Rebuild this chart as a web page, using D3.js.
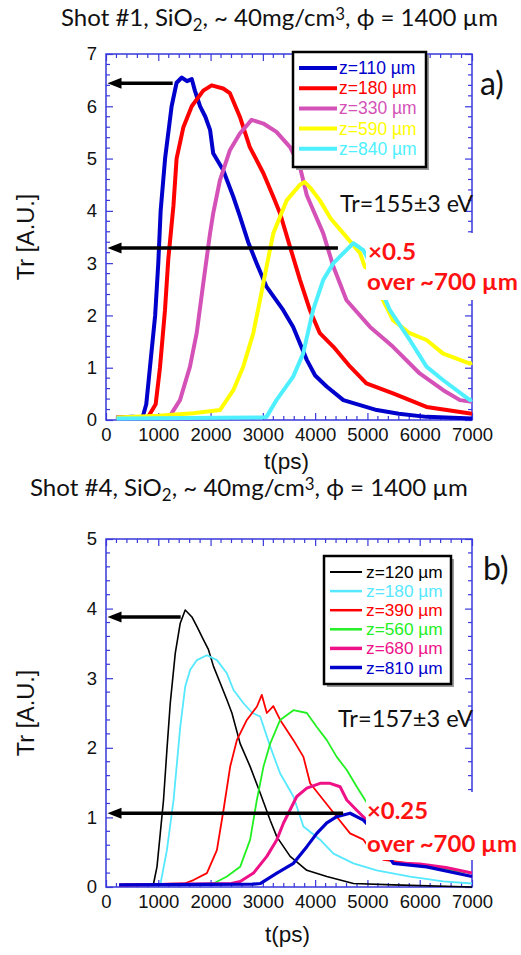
<!DOCTYPE html>
<html><head><meta charset="utf-8">
<script src="https://cdn.jsdelivr.net/npm/d3@7"></script>
<style>body{margin:0;background:#fff}svg{display:block}</style>
</head><body>
<svg id="c" width="521" height="955"></svg>
<script>
// ---------- DATA ----------
const xTicks = [0,1000,2000,3000,4000,5000,6000,7000];
const yTicksA = [0,1,2,3,4,5,6,7];
const yTicksB = [0,1,2,3,4,5];

const seriesA_names = ["z=110 µm","z=180 µm","z=330 µm","z=590 µm","z=840 µm"];
const seriesA_colors = ["#0000cc","#ff0000","#d452b8","#ffff00","#4ef0ff"];
const a_z110 = [[200,0.05],[500,0.06],[700,0.05],[770,0.3],[840,1.0],[940,2.0],[1000,3.0],[1045,4.0],[1130,5.0],[1255,6.0],[1350,6.45],[1450,6.55],[1550,6.48],[1640,6.52],[1700,6.3],[1800,6.0],[1900,5.8],[1990,5.55],[2050,5.1],[2240,4.78],[2435,4.27],[2560,3.9],[2720,3.4],[2880,3.0],[3070,2.55],[3390,2.1],[3580,1.78],[3840,1.15],[4000,0.85],[4220,0.64],[4540,0.38],[5180,0.19],[5600,0.12],[6130,0.06],[7000,0.03]];
const a_z180 = [[200,0.05],[800,0.05],[950,0.3],[1032,1.0],[1128,2.1],[1190,3.06],[1290,4.1],[1350,5.0],[1480,5.6],[1640,6.0],[1860,6.3],[2020,6.4],[2240,6.34],[2370,6.25],[2560,5.8],[2750,5.22],[3010,4.72],[3200,4.27],[3330,3.95],[3520,3.31],[3710,2.68],[3900,2.1],[4090,1.66],[4350,1.4],[4670,1.02],[4980,0.7],[5490,0.51],[6130,0.25],[7000,0.12]];
const a_z330 = [[200,0.05],[1100,0.05],[1224,0.08],[1415,0.38],[1606,1.02],[1734,1.66],[1860,2.61],[1990,3.57],[2050,3.95],[2180,4.59],[2370,5.16],[2560,5.48],[2785,5.74],[3010,5.67],[3260,5.51],[3520,5.22],[3710,4.84],[3840,4.3],[4155,3.57],[4350,2.93],[4600,2.29],[5050,1.78],[5490,1.40],[6000,0.89],[6450,0.57],[6770,0.38],[7000,0.35]];
const a_z590 = [[200,0.05],[1000,0.08],[1670,0.13],[2180,0.19],[2435,0.57],[2625,1.02],[2817,1.66],[2945,2.29],[3070,2.93],[3200,3.57],[3455,4.2],[3710,4.5],[3800,4.55],[3900,4.45],[4090,4.2],[4300,3.85],[4540,3.57],[4860,3.19],[4950,2.93],[5000,2.9],[5300,2.29],[5490,1.91],[5810,1.66],[6130,1.53],[6450,1.27],[6960,1.08],[7000,1.1]];
const a_z840 = [[200,0.03],[3000,0.05],[3070,0.06],[3260,0.38],[3580,0.83],[3770,1.27],[3960,2.1],[4155,2.68],[4350,3.0],[4540,3.19],[4730,3.38],[4920,3.25],[5000,3.1],[5430,2.1],[5810,1.53],[6130,1.02],[6450,0.76],[6960,0.38],[7000,0.4]];

const seriesB_names = ["z=120 µm","z=180 µm","z=390 µm","z=560 µm","z=680 µm","z=810 µm"];
const seriesB_colors = ["#000000","#55e8ff","#ff0000","#22f022","#ee1188","#0000cc"];
const b_z120 = [[250,0.03],[800,0.03],[910,0.05],[975,0.29],[1038,0.77],[1100,1.25],[1165,1.97],[1230,2.65],[1325,3.36],[1420,3.79],[1515,3.98],[1643,3.88],[1740,3.74],[1865,3.55],[1960,3.41],[2056,3.17],[2184,2.93],[2312,2.69],[2408,2.5],[2566,2.06],[2757,1.73],[2949,1.35],[3140,0.96],[3268,0.72],[3522,0.44],[3841,0.24],[4223,0.15],[4732,0.05],[5496,0.03],[7000,0.0]];
const b_z180 = [[250,0.03],[1038,0.03],[1165,0.53],[1292,1.25],[1420,2.3],[1515,2.88],[1611,3.12],[1739,3.26],[1930,3.33],[2121,3.26],[2312,3.07],[2439,2.83],[2630,2.64],[2800,2.5],[2949,2.45],[3140,2.02],[3331,1.63],[3585,1.30],[3776,0.87],[4095,0.68],[4350,0.48],[4732,0.34],[5178,0.24],[5815,0.15],[6451,0.08],[7000,0.05]];
const b_z390 = [[250,0.03],[1500,0.05],[1674,0.1],[1930,0.2],[2121,0.53],[2248,1.11],[2375,1.73],[2503,2.11],[2694,2.4],[2885,2.59],[2980,2.76],[3076,2.5],[3200,2.6],[3331,2.4],[3585,2.11],[3776,1.87],[3904,1.49],[4158,1.25],[4413,1.01],[4668,0.77],[4923,0.68],[5000,0.6],[5305,0.39],[5815,0.34],[6325,0.29],[7000,0.15]];
const b_z560 = [[250,0.03],[1900,0.04],[2056,0.05],[2312,0.15],[2566,0.29],[2757,0.68],[2885,1.25],[3012,1.73],[3140,2.06],[3331,2.4],[3585,2.54],[3841,2.5],[4032,2.3],[4223,2.11],[4413,1.87],[4605,1.68],[4796,1.44],[4955,1.25],[5000,1.2],[5500,0.35],[6000,0.3],[7000,0.2]];
const b_z680 = [[250,0.03],[2400,0.05],[2566,0.08],[2821,0.2],[3076,0.44],[3268,0.68],[3395,0.92],[3522,1.11],[3649,1.30],[3841,1.42],[4095,1.49],[4286,1.49],[4477,1.44],[4605,1.25],[4800,1.1],[5000,0.95],[5500,0.35],[6000,0.33],[6500,0.28],[7000,0.2]];
const b_z810 = [[250,0.03],[2800,0.04],[2949,0.05],[3268,0.2],[3585,0.34],[3841,0.58],[4032,0.77],[4223,0.92],[4413,1.01],[4668,1.06],[4923,0.96],[5000,0.9],[5496,0.34],[6133,0.29],[7000,0.15]];

// arrows: [tailT, value]
const arrowsA = [[1275,6.44],[4436,3.29]];
const arrowsB = [[1428,3.88],[4535,1.06]];

// ---------- DRAW ----------
const svg = d3.select("#c");
const SANS = "'Liberation Sans', Arial, sans-serif";
const HUM = "Lato, 'Open Sans', sans-serif";

function fitLen(sel, target){
  sel.attr("textLength", target).attr("lengthAdjust","spacingAndGlyphs");
}

function panel(cfg){
  const x = d3.scaleLinear().domain([0,7000]).range([cfg.x0,cfg.x1]);
  const y = d3.scaleLinear().domain([0,cfg.ymax]).range([cfg.y1,cfg.y0]);
  const g = svg.append("g");
  const frameCol = "#3838dc";
  const xm = d3.range(0,7001,200).filter(v=>v%1000!==0);
  const ym = d3.range(0,cfg.ymax+0.001,0.2).filter(v=>Math.abs(v-Math.round(v))>0.01);
  const tk = g.append("g").attr("stroke",frameCol).attr("stroke-width",1.2);
  xm.forEach(v=>{
    tk.append("line").attr("x1",x(v)).attr("x2",x(v)).attr("y1",cfg.y1).attr("y2",cfg.y1-4);
    tk.append("line").attr("x1",x(v)).attr("x2",x(v)).attr("y1",cfg.y0).attr("y2",cfg.y0+4);
  });
  ym.forEach(v=>{
    tk.append("line").attr("y1",y(v)).attr("y2",y(v)).attr("x1",cfg.x0).attr("x2",cfg.x0+4);
    tk.append("line").attr("y1",y(v)).attr("y2",y(v)).attr("x1",cfg.x1).attr("x2",cfg.x1-4);
  });
  const ax = g.append("g").attr("transform",`translate(0,${cfg.y1})`)
    .call(d3.axisBottom(x).tickValues(xTicks).tickFormat(d3.format("d")).tickSizeInner(-7).tickSizeOuter(0).tickPadding(8));
  const axT = g.append("g").attr("transform",`translate(0,${cfg.y0})`)
    .call(d3.axisTop(x).tickValues(xTicks).tickFormat("").tickSizeInner(-7).tickSizeOuter(0));
  const ay = g.append("g").attr("transform",`translate(${cfg.x0},0)`)
    .call(d3.axisLeft(y).tickValues(cfg.yTicks).tickFormat(d3.format("d")).tickSizeInner(-7).tickSizeOuter(0).tickPadding(9));
  const ayR = g.append("g").attr("transform",`translate(${cfg.x1},0)`)
    .call(d3.axisRight(y).tickValues(cfg.yTicks).tickFormat("").tickSizeInner(-7).tickSizeOuter(0));
  [ax,axT,ay,ayR].forEach(a=>{
    a.select(".domain").remove();
    a.selectAll(".tick line").attr("stroke",frameCol).attr("stroke-width",1.2);
    a.selectAll("text").attr("font-family",SANS).attr("font-size",18.5).attr("fill","#111");
  });
  g.append("rect").attr("x",cfg.x0).attr("y",cfg.y0).attr("width",cfg.x1-cfg.x0).attr("height",cfg.y1-cfg.y0)
    .attr("fill","none").attr("stroke",frameCol).attr("stroke-width",1.5);
  const line = d3.line().x(d=>x(d[0])).y(d=>y(d[1])).curve(d3.curveLinear);
  cfg.series.forEach((s,i)=>{
    g.append("path").attr("d",line(s)).attr("fill","none").attr("stroke",cfg.colors[i])
      .attr("stroke-width",cfg.widths[i]).attr("stroke-linejoin","round");
  });
  cfg.arrows.forEach(a=>{
    const xt = x(a[0]), yv = y(a[1]), tip = x(0)+1.5;
    g.append("line").attr("x1",xt).attr("x2",tip+10).attr("y1",yv).attr("y2",yv).attr("stroke","#000").attr("stroke-width",3.5);
    g.append("path").attr("d",`M${tip},${yv}L${tip+14},${yv-5.5}L${tip+14},${yv+5.5}Z`).attr("fill","#000");
  });
  return {x,y,g};
}

panel({x0:106,x1:472,y0:54,y1:420,ymax:7,yTicks:yTicksA,
  series:[a_z110,a_z180,a_z330,a_z590,a_z840],colors:seriesA_colors,widths:[4,4,4,4,4],arrows:arrowsA});
panel({x0:106,x1:472,y0:539,y1:887,ymax:5,yTicks:yTicksB,
  series:[b_z120,b_z180,b_z390,b_z560,b_z680,b_z810],colors:seriesB_colors,widths:[1.6,1.8,1.8,1.8,3,3.2],arrows:arrowsB});

// white boxes behind red notes
svg.append("rect").attr("x",366).attr("y",233).attr("width",155).attr("height",67).attr("fill","#fff");
svg.append("rect").attr("x",366).attr("y",792).attr("width",155).attr("height",68).attr("fill","#fff");

function legend(x0,y0,w,h,names,colors,widths,lx0,lx1,tx,by,step,fs){
  svg.append("rect").attr("x",x0+3).attr("y",y0+3).attr("width",w).attr("height",h).attr("fill","#9a9a9a");
  svg.append("rect").attr("x",x0).attr("y",y0).attr("width",w).attr("height",h).attr("fill","#fff").attr("stroke","#000").attr("stroke-width",2.5);
  names.forEach((n,i)=>{
    const yy = by + i*step;
    svg.append("line").attr("x1",lx0).attr("x2",lx1).attr("y1",yy-6).attr("y2",yy-6).attr("stroke",colors[i]).attr("stroke-width",widths[i]);
    svg.append("text").attr("x",tx).attr("y",yy).attr("font-family",SANS).attr("font-size",fs).attr("fill",colors[i]).text(n);
  });
}
legend(293,52,133,115,seriesA_names,seriesA_colors,[4,4,4,4,4],299,337,339,74,20.2,17.5);
legend(324,556,127,128,seriesB_names,seriesB_colors,[2,2.5,2.5,2.5,3.5,3.5],330,362,366,578,19.1,17.3);

function title(x,yb,num,target){
  const t = svg.append("text").attr("x",x).attr("y",yb).attr("font-family",HUM).attr("font-size",24).attr("fill","#111");
  t.append("tspan").text(`Shot #${num}, SiO`);
  t.append("tspan").attr("font-size","70%").attr("dy","0.3em").text("2");
  t.append("tspan").attr("dy","-0.21em").text(", ~ 40mg/cm");
  t.append("tspan").attr("font-size","70%").attr("dy","-0.36em").text("3");
  t.append("tspan").attr("dy","0.25em").text(", ϕ = 1400 µm");
  const w = t.node().getBBox().width;
  t.attr("transform",`translate(${x},0) scale(${target/w},1) translate(${-x},0)`);
}
title(61,26,1,437);
title(30,496,4,438);

svg.append("text").attr("x",480).attr("y",95).attr("font-family",HUM).attr("font-size",32).attr("fill","#111").text("a)");
svg.append("text").attr("x",483).attr("y",580).attr("font-family",HUM).attr("font-size",32).attr("fill","#111").text("b)");

[["t(ps)",286.5,469],["t(ps)",287.5,941.5]].forEach(d=>{
  svg.append("text").attr("x",d[1]).attr("y",d[2]).attr("text-anchor","middle").attr("font-family",SANS).attr("font-size",22.5).attr("fill","#111").text(d[0]);
});
[237,713].forEach(c=>{
  svg.append("text").attr("transform",`translate(33.5,${c}) rotate(-90)`).attr("text-anchor","middle")
    .attr("font-family",SANS).attr("font-size",23.5).attr("fill","#111").text("Tr [A.U.]");
});

const t1 = svg.append("text").attr("x",340).attr("y",212).attr("font-family",HUM).attr("font-size",24).attr("fill","#111").text("Tr=155±3 eV"); fitLen(t1,133);
const t2 = svg.append("text").attr("x",338).attr("y",727).attr("font-family",HUM).attr("font-size",24).attr("fill","#111").text("Tr=157±3 eV"); fitLen(t2,135);
function red(x,y,s,w,fs){const t=svg.append("text").attr("x",x).attr("y",y).attr("font-family",HUM).attr("font-weight",700).attr("font-size",fs).attr("fill","#ff1111").text(s); fitLen(t,w);}
red(368,260,"×0.5",48,23);
red(367,290,"over ~700 µm",151,22.5);
red(367,819,"×0.25",61,23);
red(367,852,"over ~700 µm",150,22.5);
</script>
</body></html>
